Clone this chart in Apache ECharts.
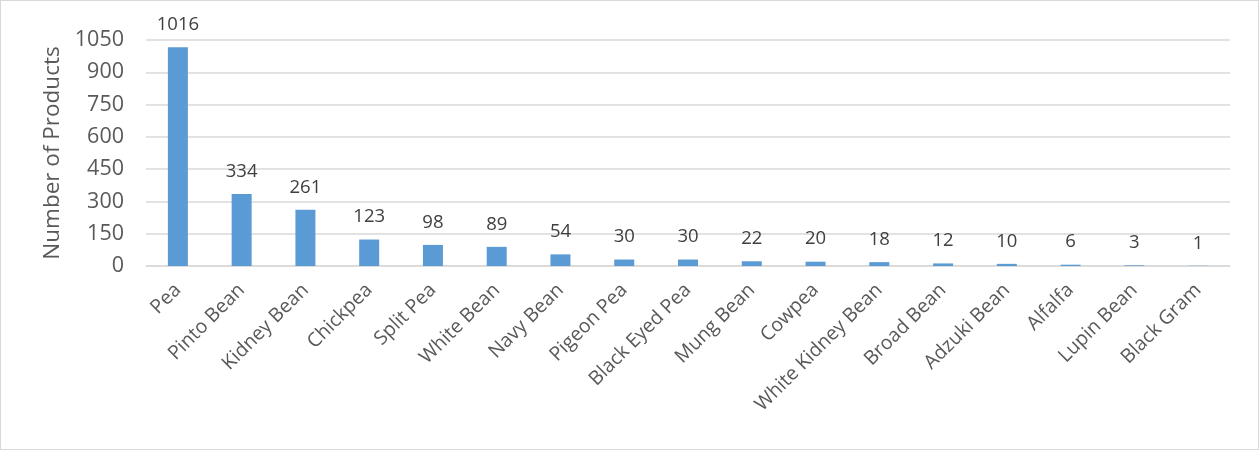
<!DOCTYPE html>
<html><head><meta charset="utf-8">
<script src="https://cdn.jsdelivr.net/npm/echarts@6/dist/echarts.min.js"></script>
<style>html,body{margin:0;padding:0;background:#fff}#c{width:1257px;height:448px;border:1px solid #d9d9d9}</style>
</head><body><div id="c"></div>
<script>
const categories = ["Pea","Pinto Bean","Kidney Bean","Chickpea","Split Pea","White Bean","Navy Bean","Pigeon Pea","Black Eyed Pea","Mung Bean","Cowpea","White Kidney Bean","Broad Bean","Adzuki Bean","Alfalfa","Lupin Bean","Black Gram"];
const values = [1016,334,261,123,98,89,54,30,30,22,20,18,12,10,6,3,1];
const yTicks = [0,150,300,450,600,750,900,1050];
const chart = echarts.init(document.getElementById('c'));
const font = '"Open Sans", "Noto Sans", sans-serif';
chart.setOption({
  animation:false,
  grid:{left:145,right:28,top:39,bottom:183},
  xAxis:{type:'category',data:categories,
    axisLine:{lineStyle:{color:'#d9d9d9',width:1.5}},axisTick:{show:false},
    axisLabel:{rotate:45,color:'#595959',fontSize:19.5,fontFamily:font,margin:21,interval:0}},
  yAxis:{type:'value',min:yTicks[0],max:yTicks[yTicks.length-1],interval:150,
    name:'Number of Products',nameLocation:'middle',nameGap:78,
    nameTextStyle:{color:'#595959',fontSize:22.5,fontFamily:font},
    axisLine:{show:false},axisTick:{show:false},
    splitLine:{lineStyle:{color:'#d9d9d9',width:1.5}},
    axisLabel:{color:'#595959',fontSize:21.5,fontFamily:font,margin:22,formatter:v=>String(v)}},
  series:[{type:'bar',data:values,barWidth:20,
    itemStyle:{color:'#5b9bd5'},
    label:{show:true,position:'top',distance:13,color:'#404040',fontSize:18.5,fontFamily:font}}]
});
</script></body></html>
